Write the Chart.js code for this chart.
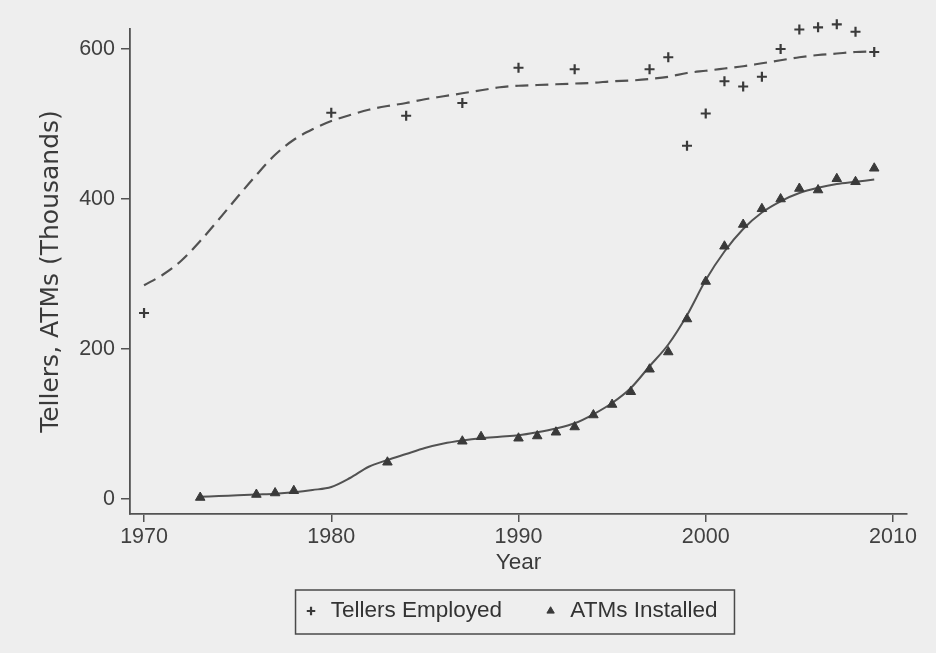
<!DOCTYPE html>
<html>
<head>
<meta charset="utf-8">
<script src="https://cdn.jsdelivr.net/npm/chart.js@4/dist/chart.umd.min.js"></script>
<style>
html, body { margin: 0; padding: 0; background: #eeeeee; }
#wrap { width: 936px; height: 653px; position: relative; }
canvas { display: block; }
</style>
</head>
<body>
<div id="wrap"><canvas id="c" width="936" height="653"></canvas></div>
<script>
// ---- data ----
const xTickLabels = [1970, 1980, 1990, 2000, 2010];
const yTickLabels = [0, 200, 400, 600];

const tellerYears  = [1970, 1980, 1984, 1987, 1990, 1993, 1997, 1998, 1999, 2000, 2001, 2002, 2003, 2004, 2005, 2006, 2007, 2008, 2009];
const tellerValues = [248, 515, 511, 528, 575, 573, 573, 589, 471, 514, 557, 550, 563, 600, 626, 629, 633, 623, 596];

const atmYears  = [1973, 1976, 1977, 1978, 1983, 1987, 1988, 1990, 1991, 1992, 1993, 1994, 1995, 1996, 1997, 1998, 1999, 2000, 2001, 2002, 2003, 2004, 2005, 2006, 2007, 2008, 2009];
const atmValues = [2, 6, 8, 11, 49, 77, 83, 81, 84, 89, 96, 112, 126, 143, 173, 196, 240, 290, 337, 366, 387, 400, 414, 412, 427, 423, 441];

const tellerFitYears  = [1970, 1971, 1972, 1973, 1974, 1975, 1976, 1977, 1978, 1979, 1980, 1981, 1982, 1983, 1984, 1985, 1986, 1987, 1988, 1989, 1990, 1991, 1992, 1993, 1994, 1995, 1996, 1997, 1998, 1999, 2000, 2001, 2002, 2003, 2004, 2005, 2006, 2007, 2008, 2009];
const tellerFitValues = [285, 299, 318, 344, 373, 403, 432, 459, 479, 493, 504, 512, 519, 524, 528, 533, 537, 541, 545, 549, 551, 552, 553, 554, 555, 557, 558, 560, 563, 568, 571, 574, 577, 581, 585, 589, 592, 594, 596, 597];

const atmFitYears  = [1973, 1974, 1975, 1976, 1977, 1978, 1979, 1980, 1981, 1982, 1983, 1984, 1985, 1986, 1987, 1988, 1989, 1990, 1991, 1992, 1993, 1994, 1995, 1996, 1997, 1998, 1999, 2000, 2001, 2002, 2003, 2004, 2005, 2006, 2007, 2008, 2009];
const atmFitValues = [3, 4, 5, 6, 7, 9, 12, 16, 28, 43, 52, 60, 68, 74, 78, 81, 83, 85, 89, 94, 101, 113, 128, 148, 177, 206, 245, 292, 330, 360, 382, 397, 408, 415, 420, 423, 426];

const seriesNames = ['Tellers Employed', 'ATMs Installed'];
const xTitle = 'Year';
const yTitle = 'Tellers, ATMs (Thousands)';

// ---- helpers ----
const toPoints = (xs, ys) => xs.map((x, i) => ({ x: x, y: ys[i] }));

const INK = '#3a3a3a';
const LINE = '#525252';
const LEGEND_FONT = 22.5;

const bgPlugin = {
  id: 'pageBg',
  beforeDraw(chart) {
    const ctx = chart.ctx;
    ctx.save();
    ctx.fillStyle = '#eeeeee';
    ctx.fillRect(0, 0, chart.width, chart.height);
    ctx.restore();
  }
};

const legendShift = {
  id: 'legendShift',
  afterLayout(chart) {
    if (chart.legend) {
      chart.legend.left -= 8.5;
      chart.legend.right -= 8.5;
    }
  }
};

const legendBox = {
  id: 'legendBox',
  afterDraw(chart) {
    const lg = chart.legend;
    if (!lg || !lg.legendHitBoxes || !lg.legendHitBoxes.length) return;
    const hb = lg.legendHitBoxes;
    const last = hb[hb.length - 1];
    const left = hb[0].left - 7;
    const right = last.left + last.width + 17;
    const cy = hb[0].top + LEGEND_FONT / 2 + 1;
    const ctx = chart.ctx;
    ctx.save();
    ctx.strokeStyle = '#4a4a4a';
    ctx.lineWidth = 1.5;
    ctx.strokeRect(left, cy - 22, right - left, 44);
    ctx.restore();
  }
};

new Chart(document.getElementById('c'), {
  type: 'scatter',
  data: {
    datasets: [
      {
        label: seriesNames[0],
        data: toPoints(tellerYears, tellerValues),
        pointStyle: 'cross',
        pointRadius: 5,
        pointBorderWidth: 2.2,
        borderWidth: 2,
        borderColor: INK,
        backgroundColor: INK,
        pointBorderColor: INK,
        pointBackgroundColor: INK,
        clip: false,
        order: 1
      },
      {
        label: seriesNames[1],
        data: toPoints(atmYears, atmValues),
        pointStyle: 'triangle',
        pointRadius: 5.5,
        pointBorderWidth: 1,
        borderWidth: 1,
        borderColor: INK,
        backgroundColor: INK,
        pointBorderColor: INK,
        pointBackgroundColor: INK,
        clip: false,
        order: 1
      },
      {
        label: 'tellers fit',
        data: toPoints(tellerFitYears, tellerFitValues),
        showLine: true,
        pointRadius: 0,
        borderColor: LINE,
        borderWidth: 2.2,
        borderDash: [13, 7],
        cubicInterpolationMode: 'monotone',
        fill: false,
        clip: false,
        order: 2
      },
      {
        label: 'atms fit',
        data: toPoints(atmFitYears, atmFitValues),
        showLine: true,
        pointRadius: 0,
        borderColor: LINE,
        borderWidth: 2,
        cubicInterpolationMode: 'monotone',
        fill: false,
        clip: false,
        order: 2
      }
    ]
  },
  options: {
    responsive: false,
    animation: false,
    devicePixelRatio: 1,
    layout: { padding: { top: 29, right: 29, bottom: 20.75, left: 0 } },
    plugins: {
      tooltip: { enabled: false },
      legend: {
        display: true,
        position: 'bottom',
        fullSize: false,
        labels: {
          usePointStyle: true,
          boxWidth: 17,
          boxHeight: 6,
          padding: 40,
          color: '#333333',
          font: { family: 'Liberation Sans', size: LEGEND_FONT },
          filter: (item) => item.datasetIndex < 2
        }
      }
    },
    scales: {
      x: {
        type: 'linear',
        position: 'bottom',
        min: 1969.25,
        max: 2010.75,
        afterBuildTicks: (s) => { s.ticks = xTickLabels.map(v => ({ value: v })); },
        afterFit: (s) => { s.height = 45.75; },
        ticks: {
          color: '#404040',
          padding: 2,
          maxRotation: 0,
          autoSkip: false,
          font: { family: 'Liberation Sans', size: 21.5 },
          callback: (v) => String(v)
        },
        grid: { display: true, drawOnChartArea: false, drawTicks: true, tickLength: 8, color: LINE, lineWidth: 1.5 },
        border: { display: true, color: LINE, width: 1.8 },
        title: {
          display: true,
          text: xTitle,
          color: '#3a3a3a',
          font: { family: 'Liberation Sans', size: 22.5 },
          padding: { top: 0, bottom: -16.75 }
        }
      },
      y: {
        type: 'linear',
        min: -20,
        max: 626.7,
        afterBuildTicks: (s) => { s.ticks = yTickLabels.map(v => ({ value: v })); },
        afterFit: (s) => { s.width = 130; },
        ticks: {
          color: '#404040',
          padding: 6,
          font: { family: 'Liberation Sans', size: 21.5 },
          callback: (v) => String(v)
        },
        grid: { display: true, drawOnChartArea: false, drawTicks: true, tickLength: 9, color: LINE, lineWidth: 1.5 },
        border: { display: true, color: LINE, width: 1.8 },
        title: {
          display: true,
          text: yTitle,
          color: '#3a3a3a',
          font: { family: 'DejaVu Sans', size: 25 },
          padding: { top: 36.3, bottom: 0 }
        }
      }
    }
  },
  plugins: [bgPlugin, legendShift, legendBox]
});
</script>
</body>
</html>
